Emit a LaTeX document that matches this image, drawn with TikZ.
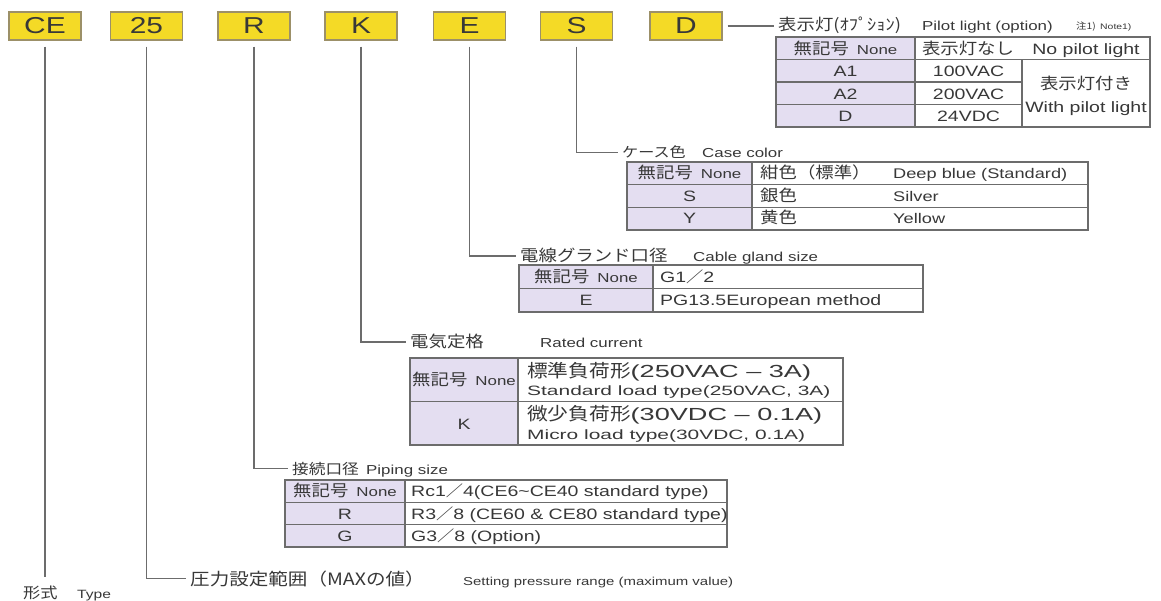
\documentclass[tikz,border=0pt]{standalone}
\usepackage{fontspec}
\setmainfont[FakeStretch=1.3]{Liberation Sans}
\newfontfamily\jp[FakeStretch=1.15]{Noto Sans CJK JP}
\newfontfamily\widelatin[FakeStretch=1.55]{Liberation Sans}
\usepackage{tikz}
\usetikzlibrary{calc}

\definecolor{codeyellow}{HTML}{F4DA26}
\definecolor{codeedge}{HTML}{9C9068}
\definecolor{inkgray}{HTML}{383838}
\definecolor{rulegray}{HTML}{6C6C6C}
\definecolor{keylilac}{HTML}{E4DEF1}

\tikzset{
  codebox/.style = {shape=rectangle, minimum width=72pt, minimum height=28pt, inner sep=0pt, draw=codeedge, fill=codeyellow, line width=1.2pt, text=inkgray, font=\fontsize{23}{23}\selectfont},
  leader/.style = {draw=rulegray, line width=1.2pt},
  grid/.style = {draw=rulegray, line width=1.1pt},
  frame/.style = {draw=rulegray, line width=1.5pt},
  keycell/.style = {fill=keylilac},
  jptitle/.style = {anchor=base west, inner sep=0pt, text=inkgray, font=\jp\fontsize{16}{16}\selectfont},
  entitle/.style = {anchor=base west, inner sep=0pt, text=inkgray, font=\fontsize{13}{13}\selectfont},
  cell/.style = {anchor=base, inner sep=0pt, text=inkgray, font=\fontsize{15}{15}\selectfont},
  lcell/.style = {cell, anchor=base west},
  jpcell/.style = {cell, font=\jp\fontsize{16}{16}\selectfont},
  jplcell/.style = {lcell, font=\jp\fontsize{16}{16}\selectfont},
}
\newcommand{\nokey}{{\jp\fontsize{16}{16}\selectfont 無記号}\hspace{8pt}{\fontsize{13}{13}\selectfont None}}
\newcommand{\fws}{{\jp ／}}

\begin{document}
\begin{tikzpicture}[x=1pt, y=-1pt]
\useasboundingbox (0,0) rectangle (1161,601);
\fill[white] (0,0) rectangle (1161,601);

% model code
\node[codebox] (ce) at (45,26) {CE};
\node[codebox] (range) at (146.5,26) {25};
\node[codebox] (port) at (254,26) {R};
\node[codebox] (rating) at (361,26) {K};
\node[codebox] (gland) at (469.5,26) {E};
\node[codebox] (case) at (576.5,26) {S};
\node[codebox] (lamp) at (686,26) {D};

% pilot light
\node[jptitle] (lampjp) at (778,31) {表示灯(ｵﾌﾟｼｮﾝ)};
\node[entitle] (lampen) at (922,31) {Pilot light (option)};
\node[jptitle, font=\jp\fontsize{9}{9}\selectfont] (lampnote) at (1076,30) {注1)};
\node[entitle, font=\fontsize{8}{8}\selectfont] (lampnoteen) at (1100,30) {Note1)};
\draw[leader] ([xshift=5pt]lamp.east) -- ($(lamp.east -| lampjp.west)+(-4,0)$);
\fill[keycell] (776,37) rectangle (915,127);
\draw[grid] (776,59.5) -- (1150,59.5) (776,82) -- (1022,82) (776,104.5) -- (1022,104.5);
\draw[grid] (915,37) -- (915,127) (1022,59.5) -- (1022,127);
\draw[frame] (776,37) rectangle (1150,127);
\node[cell] (lampnone) at (845.5,54.5) {\nokey};
\node[jpcell] (lampnonejp) at (968,54.5) {表示灯なし};
\node[cell] (lampnoneen) at (1086,54.5) {No pilot light};
\node[cell] (lampaone) at (845.5,77) {A1};
\node[cell] (lampaonev) at (968.5,77) {100VAC};
\node[cell] (lampatwo) at (845.5,99.5) {A2};
\node[cell] (lampatwov) at (968.5,99.5) {200VAC};
\node[cell] (lampd) at (845.5,122) {D};
\node[cell] (lampdv) at (968.5,122) {24VDC};
\node[jpcell] (lamponjp) at (1086,90) {表示灯付き};
\node[cell] (lamponen) at (1086,113) {With pilot light};

% case color
\node[jptitle, font=\jp\fontsize{14}{14}\selectfont] (casejp) at (622,158) {ケース色};
\node[entitle] (caseen) at (702,158) {Case color};
\draw[leader] ([yshift=-6pt]case.south) |- ($(casejp.west)+(-4,0)$);
\fill[keycell] (627,162) rectangle (752,230);
\draw[grid] (627,184.7) -- (1088,184.7) (627,207.3) -- (1088,207.3) (752,162) -- (752,230);
\draw[frame] (627,162) rectangle (1088,230);
\node[cell] (casenone) at (689.5,179) {\nokey};
\node[cell] (cases) at (689.5,201.5) {S};
\node[cell] (casey) at (689.5,224) {Y};
\node[jplcell] (caseblue) at (760,179) {紺色（標準）};
\node[jplcell] (casesilver) at (760,201.5) {銀色};
\node[jplcell] (caseyellow) at (760,224) {黄色};
\node[lcell, font=\fontsize{14}{14}\selectfont] (caseblueen) at (893,179) {Deep blue (Standard)};
\node[lcell, font=\fontsize{14}{14}\selectfont] (casesilveren) at (893,201.5) {Silver};
\node[lcell, font=\fontsize{14}{14}\selectfont] (caseyellowen) at (893,224) {Yellow};

% cable gland
\node[jptitle] (glandjp) at (520,262) {電線グランド口径};
\node[entitle] (glanden) at (693,262) {Cable gland size};
\draw[leader] ([yshift=-6pt]gland.south) |- ($(glandjp.west)+(-4,0)$);
\fill[keycell] (519,265) rectangle (653,312);
\draw[grid] (519,288.5) -- (923,288.5) (653,265) -- (653,312);
\draw[frame] (519,265) rectangle (923,312);
\node[cell] (glandnone) at (586,282.5) {\nokey};
\node[cell] (glande) at (586,306) {E};
\node[lcell] (glandg) at (660,282.5) {G1\fws 2};
\node[lcell] (glandpg) at (660,306) {PG13.5European method};

% rated current
\node[jptitle] (ratingjp) at (410,348) {電気定格};
\node[entitle] (ratingen) at (540,348) {Rated current};
\draw[leader] ([yshift=-6pt]rating.south) |- ($(ratingjp.west)+(-4,0)$);
\fill[keycell] (410,358) rectangle (518,445);
\draw[grid] (410,401.5) -- (843,401.5) (518,358) -- (518,445);
\draw[frame] (410,358) rectangle (843,445);
\node[cell] (ratingnone) at (464,385) {\nokey};
\node[cell] (ratingk) at (464,429) {K};
\node[lcell, font=\widelatin\fontsize{17.5}{17.5}\selectfont] (ratingstd) at (527,377) {{\jp\fontsize{18}{18}\selectfont 標準負荷形}(250VAC – 3A)};
\node[lcell, font=\widelatin\fontsize{13.5}{13.5}\selectfont] (ratingstden) at (527,395.5) {Standard load type(250VAC, 3A)};
\node[lcell, font=\widelatin\fontsize{17.5}{17.5}\selectfont] (ratingmicro) at (527,420.5) {{\jp\fontsize{18}{18}\selectfont 微少負荷形}(30VDC – 0.1A)};
\node[lcell, font=\widelatin\fontsize{13.5}{13.5}\selectfont] (ratingmicroen) at (527,439) {Micro load type(30VDC, 0.1A)};

% piping size
\node[jptitle, font=\jp\fontsize{14.5}{14.5}\selectfont] (portjp) at (292,474) {接続口径};
\node[entitle] (porten) at (366,474) {Piping size};
\draw[leader] ([yshift=-6pt]port.south) |- ($(portjp.west)+(-4,0)$);
\fill[keycell] (285,480) rectangle (405,547);
\draw[grid] (285,502.3) -- (727,502.3) (285,524.7) -- (727,524.7) (405,480) -- (405,547);
\draw[frame] (285,480) rectangle (727,547);
\node[cell] (portnone) at (345,496.5) {\nokey};
\node[cell] (portr) at (345,519) {R};
\node[cell] (portg) at (345,541.5) {G};
\node[lcell] (portrc) at (411,496.5) {Rc1\fws 4(CE6\textasciitilde CE40 standard type)};
\node[lcell] (portrr) at (411,519) {R3\fws 8 (CE60 \& CE80 standard type)};
\node[lcell] (portgg) at (411,541.5) {G3\fws 8 (Option)};

% pressure range
\node[jptitle, font=\jp\fontsize{17}{17}\selectfont] (rangejp) at (190,585) {圧力設定範囲（MAXの値）};
\node[entitle, font=\fontsize{11.5}{11.5}\selectfont] (rangeen) at (463,585) {Setting pressure range (maximum value)};
\draw[leader] ([yshift=-6pt]range.south) |- ($(rangejp.west)+(-4,0)$);

% type
\node[jptitle, font=\jp\fontsize{15}{15}\selectfont] (cejp) at (23,598) {形式};
\node[entitle, font=\fontsize{12}{12}\selectfont] (ceen) at (77,598) {Type};
\draw[leader] ([yshift=-6pt]ce.south) -- ($(ce.south |- cejp.north)+(0,-8)$);

\end{tikzpicture}
\end{document}
